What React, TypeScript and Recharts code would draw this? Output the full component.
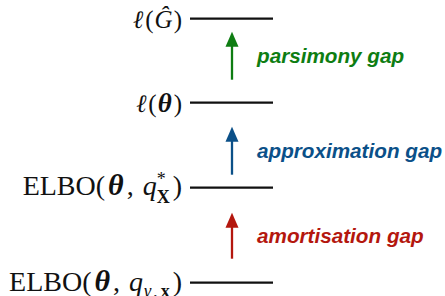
import React from 'react';
import { ComposedChart, XAxis, YAxis, Scatter, ReferenceLine } from 'recharts';

// Levels of the bound (bottom to top), in arbitrary "objective" units
const levelKeys = ['elboAmortised', 'elboOptimal', 'likelihood', 'parsimony'];
const levelValues = [0, 95, 180, 264];

// Gaps between levels: label and arrow extent (same units)
const gapLabels = ['amortisation gap', 'approximation gap', 'parsimony gap'];
const gapFrom = [24, 108, 203];
const gapTo = [70, 156, 251];

// Layout / style constants
const W = 445;
const H = 296;
const X_DOMAIN: [number, number] = [0, 445];
const Y_DOMAIN: [number, number] = [-13.3, 282.7];
const LINE_X1 = 190;
const LINE_X2 = 273;
const LINE_MID = (LINE_X1 + LINE_X2) / 2;
const ARROW_X = 232;
const LABEL_RIGHT = 182;
const GAP_TEXT_X = 257;
const GAP_COLORS = ['#b4170e', '#0b5088', '#0e7d12'];
const SERIF = '"Liberation Serif", "DejaVu Serif", serif';
const SANS = '"Liberation Sans", Arial, Helvetica, sans-serif';

const levelData = levelValues.map((v, i) => ({ x: LINE_MID, y: v, key: levelKeys[i] }));

function renderLabel(key: string, x: number, y: number) {
  if (key === 'parsimony') {
    return (
      <text x={x} y={y + 9} textAnchor="end" fontFamily={SERIF} fontSize={25} fill="#111">
        <tspan fontStyle="italic">ℓ</tspan>
        <tspan dx={2}>(</tspan>
        <tspan fontStyle="italic" dx={1}>Ĝ</tspan>
        <tspan dx={1}>)</tspan>
      </text>
    );
  }
  if (key === 'likelihood') {
    return (
      <text x={x} y={y + 9} textAnchor="end" fontFamily={SERIF} fontSize={25} fill="#111">
        <tspan fontStyle="italic">ℓ</tspan>
        <tspan dx={2}>(</tspan>
        <tspan fontWeight="bold" fontStyle="italic" fontSize={27} dx={1}>θ</tspan>
        <tspan dx={2}>)</tspan>
      </text>
    );
  }
  if (key === 'elboOptimal') {
    return (
      <text x={x} y={y + 7.5} textAnchor="end" fontFamily={SERIF} fontSize={28} fill="#111">
        <tspan>ELBO(</tspan>
        <tspan fontWeight="bold" fontStyle="italic" fontSize={30} dx={3}>θ</tspan>
        <tspan dx={3}>,</tspan>
        <tspan fontStyle="italic" dx={9}>q</tspan>
        <tspan fontSize={18} dy={-10}>*</tspan>
        <tspan fontSize={18} fontWeight="bold" dx={-9} dy={18}>X</tspan>
        <tspan dx={3} dy={-8}>)</tspan>
      </text>
    );
  }
  return (
    <text x={x} y={y + 8.5} textAnchor="end" fontFamily={SERIF} fontSize={28} fill="#111">
      <tspan>ELBO(</tspan>
      <tspan fontWeight="bold" fontStyle="italic" fontSize={30} dx={3}>θ</tspan>
      <tspan dx={3}>,</tspan>
      <tspan fontStyle="italic" dx={9}>q</tspan>
      <tspan fontSize={18} dy={6} dx={1} fontStyle="italic">γ</tspan>
      <tspan fontSize={18} dx={2}>,</tspan>
      <tspan fontSize={18} fontWeight="bold" dx={3}>x</tspan>
      <tspan dx={3} dy={-6}>)</tspan>
    </text>
  );
}

const LevelShape = (p: any) => {
  const { cx, cy, payload } = p;
  const half = (LINE_X2 - LINE_X1) / 2;
  return (
    <g>
      <line x1={cx - half} x2={cx + half} y1={cy} y2={cy} stroke="#111" strokeWidth={2.3} />
      {renderLabel(payload.key, LABEL_RIGHT, cy)}
    </g>
  );
};

const makeArrow = (i: number) => (p: any) => {
  const { x1, y1, y2 } = p;
  const color = GAP_COLORS[i];
  const bottom = Math.max(y1, y2);
  const tip = Math.min(y1, y2);
  const headLen = 15;
  const headHalf = 6.5;
  const mid = (bottom + tip) / 2;
  return (
    <g>
      <line x1={x1} x2={x1} y1={bottom} y2={tip + headLen - 1} stroke={color} strokeWidth={2.3} />
      <polygon
        points={`${x1},${tip} ${x1 - headHalf},${tip + headLen} ${x1 + headHalf},${tip + headLen}`}
        fill={color}
      />
      <text
        x={GAP_TEXT_X}
        y={mid + 7}
        fontFamily={SANS}
        fontWeight="bold"
        fontStyle="italic"
        fontSize={20.7}
        fill={color}
      >
        {gapLabels[i]}
      </text>
    </g>
  );
};

export default function App() {
  return (
    <div style={{ position: 'absolute', left: 0, top: 0, width: W, height: H, background: '#fff' }}>
      <ComposedChart width={W} height={H} data={levelData} margin={{ top: 0, right: 0, bottom: 0, left: 0 }}>
        <XAxis type="number" dataKey="x" domain={X_DOMAIN} hide allowDataOverflow />
        <YAxis type="number" dataKey="y" domain={Y_DOMAIN} hide allowDataOverflow />
        {gapLabels.map((g, i) => (
          <ReferenceLine
            key={g}
            ifOverflow="visible"
            segment={[
              { x: ARROW_X, y: gapFrom[i] },
              { x: ARROW_X, y: gapTo[i] },
            ]}
            shape={makeArrow(i)}
          />
        ))}
        <Scatter data={levelData} dataKey="y" shape={LevelShape} isAnimationActive={false} />
      </ComposedChart>
    </div>
  );
}
